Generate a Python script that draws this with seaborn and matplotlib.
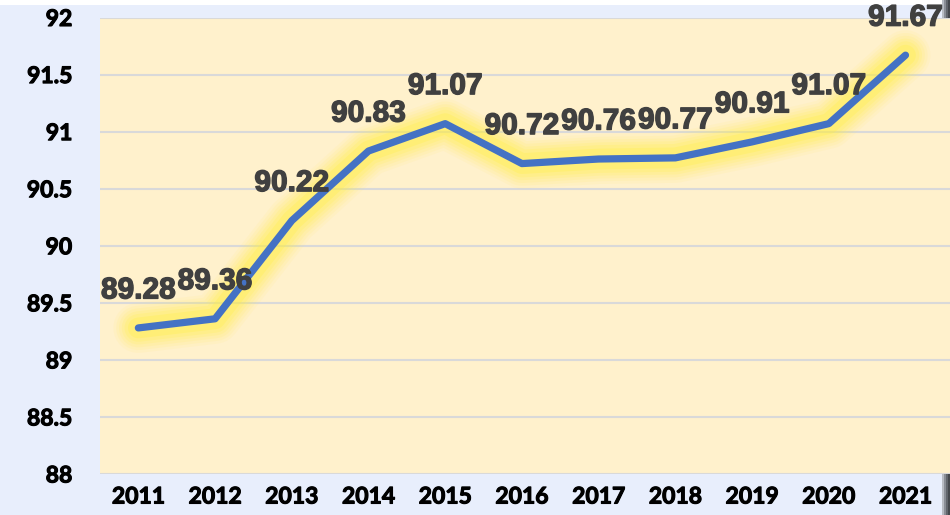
import matplotlib
matplotlib.use("Agg")
import matplotlib.pyplot as plt
import matplotlib.patheffects as pe
import seaborn as sns
import pandas as pd

years = ["2011", "2012", "2013", "2014", "2015", "2016", "2017", "2018", "2019", "2020", "2021"]
values = [89.28, 89.36, 90.22, 90.83, 91.07, 90.72, 90.76, 90.77, 90.91, 91.07, 91.67]
y_ticks = [88, 88.5, 89, 89.5, 90, 90.5, 91, 91.5, 92]
y_tick_labels = ["88", "88.5", "89", "89.5", "90", "90.5", "91", "91.5", "92"]

df = pd.DataFrame({"year": years, "value": values})

sns.set_theme(style="white")
plt.rcParams["font.family"] = ["Lato", "DejaVu Sans"]
plt.rcParams["font.weight"] = "bold"

fig = plt.figure(figsize=(9.5, 5.15), dpi=100)
fig.patch.set_facecolor("#E8EEFC")
ax = fig.add_axes([100/950, 1 - 474/515, 850/950, (474-17.5)/515])
ax.set_facecolor("#FFF1CC")

fig.patches.append(plt.Rectangle((0, 1 - 5/515), 1, 5/515, transform=fig.transFigure,
                                 facecolor="white", edgecolor="none", zorder=-1))
# dark shadow strip at the right edge (visible above and below the plot area)
for k, c in enumerate(["#B8BCC4", "#8A8E96", "#62666D", "#45484D"]):
    fig.patches.append(plt.Rectangle(((942 + k * 2) / 950, 0), 2 / 950, 1,
                                     transform=fig.transFigure, facecolor=c,
                                     edgecolor="none", zorder=-1))

glow = [pe.Stroke(linewidth=w, foreground="#FFEE44", alpha=a) for w, a in
        [(36, 0.07), (32, 0.09), (28, 0.11), (24, 0.14), (20, 0.18), (15, 0.28)]] + [pe.Normal()]

sns.lineplot(data=df, x="year", y="value", ax=ax, color="#4472C4", linewidth=5.2,
             sort=False, path_effects=glow)
for ln in ax.lines:
    ln.set_solid_capstyle("round")
    ln.set_solid_joinstyle("round")

for i, v in enumerate(values):
    ax.annotate(f"{v:.2f}", (i, v), xytext=(0, 27), textcoords="offset points",
                ha="center", va="center", fontsize=21.5, fontweight="bold",
                color="#404040", family=["Liberation Sans", "DejaVu Sans"], zorder=5,
                path_effects=[pe.withStroke(linewidth=1.0, foreground="#404040")])

ax.set_xlim(-0.5, 10.58)
ax.set_ylim(88, 92)
ax.set_yticks(y_ticks)
ax.set_yticklabels(y_tick_labels, fontweight="bold")
ax.yaxis.grid(True, color="#D9D9D9", linewidth=1.5)
ax.set_axisbelow(True)
for s in ax.spines.values():
    s.set_visible(False)
ax.tick_params(axis="y", labelsize=16.5, pad=20, length=0, colors="black")
ax.tick_params(axis="x", labelsize=16.5, pad=9, length=0, colors="black")
ax.set_xlabel("")
ax.set_ylabel("")
for lab in ax.get_yticklabels() + ax.get_xticklabels():
    lab.set_path_effects([pe.withStroke(linewidth=0.8, foreground="black")])

fig.savefig("out.png", dpi=100, facecolor=fig.get_facecolor())
